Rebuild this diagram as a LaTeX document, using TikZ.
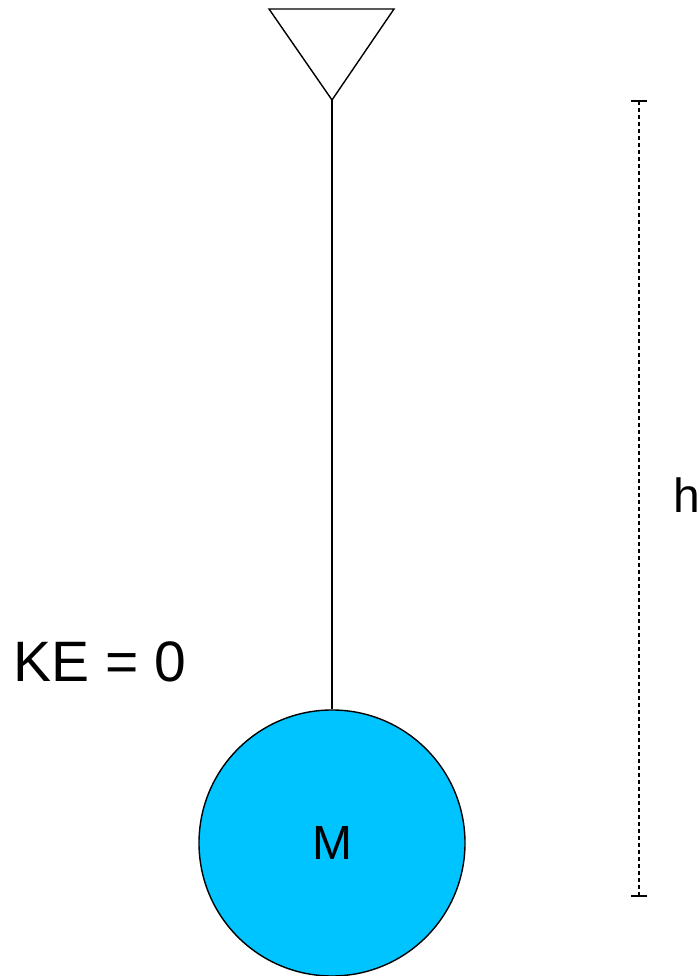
\documentclass[tikz,border=0pt]{standalone}
\usepackage{fontspec}
\setmainfont{Liberation Sans}
\usepackage{xcolor}
\usetikzlibrary{arrows.meta}
\definecolor{bobBlue}{HTML}{00C4FF}

\begin{document}
\begin{tikzpicture}[
  x=1pt, y=1pt,
  support/.style={line width=1.4pt, line join=miter},
  bob/.style={
    circle, draw, line width=1.4pt, fill=bobBlue,
    minimum size=266pt, inner sep=0pt,
    font=\fontsize{48}{52}\selectfont
  },
  dimline/.style={
    line width=2pt, dash pattern=on 4pt off 3pt,
    {Bar[width=16pt,line width=2pt]}-{Bar[width=16pt,line width=2pt]}
  },
  lbl/.style={anchor=base west, inner sep=0pt},
]
\useasboundingbox (0,0) rectangle (698,976);

% --- Support triangle and pivot ---
\coordinate (pivot) at (332,876);
\coordinate (supL) at (269,967);
\coordinate (supR) at (394,967);
\draw[support] (supL) -- (supR) -- (pivot) -- cycle;

% --- Bob and string ---
\node[bob] (mass) at (332,133) {M};
\draw[line width=1.4pt] (pivot) -- (mass.north);

% --- Height marker ---
\coordinate (htop) at (639,876);
\coordinate (hbot) at (639,79);
\draw[dimline] (htop) -- (hbot);
\node[lbl, font=\fontsize{48}{52}\selectfont] (hlabel) at (673,463) {h};

% --- Energy label ---
\node[lbl, font=\fontsize{57}{60}\selectfont] (ke) at (13,294) {KE = 0};

\end{tikzpicture}
\end{document}
